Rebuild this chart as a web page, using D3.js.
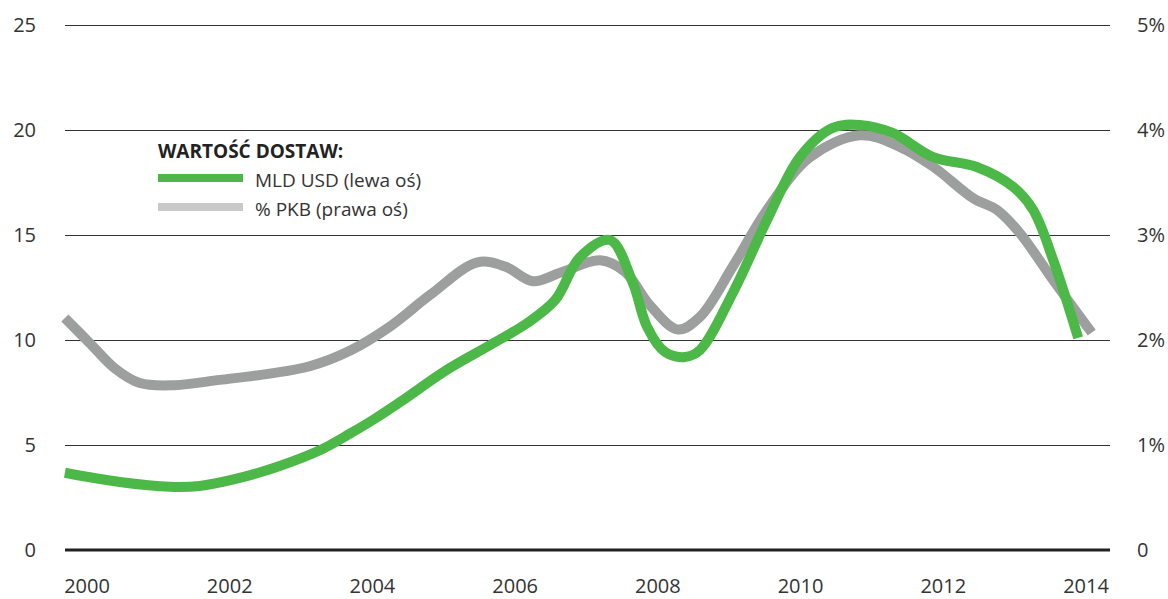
<!DOCTYPE html>
<html lang="pl">
<head>
<meta charset="utf-8">
<title>Wartość dostaw</title>
<script src="https://cdn.jsdelivr.net/npm/d3@7"></script>
<style>
  body { margin: 0; background: #fff; }
  text { font-family: "Open Sans", "Noto Sans", sans-serif; fill: #333; }
  .grid { stroke: #333; stroke-width: 1; }
  .base { stroke: #222; stroke-width: 3; }
  .tick-label { font-size: 20px; }
  .legend-title { font-size: 19px; font-weight: bold; fill: #222; }
  .legend-text { font-size: 19px; fill: #333; }
</style>
</head>
<body>
<script>
// years shown on the x axis
var years = [2000, 2002, 2004, 2006, 2008, 2010, 2012, 2014];
var leftTicks = [0, 5, 10, 15, 20, 25];
var rightTicks = ["0", "1%", "2%", "3%", "4%", "5%"];

// MLD USD (left axis) at fractional years
var usdYear = [1999.69, 2000.46, 2001.16, 2001.58, 2002.14, 2002.7, 2003.27, 2003.69, 2004.02, 2004.39,
               2005.04, 2005.65, 2006.17, 2006.56, 2006.91, 2007.33, 2007.65, 2007.85, 2008.1, 2008.38,
               2008.59, 2009.05, 2009.53, 2009.99, 2010.45, 2010.83, 2011.29, 2011.86, 2012.47, 2012.98,
               2013.26, 2013.54, 2013.89];
var usdValue = [3.68, 3.24, 3.01, 3.05, 3.43, 4.0, 4.76, 5.55, 6.22, 7.05,
                8.57, 9.76, 10.81, 11.9, 13.95, 14.76, 12.71, 10.62, 9.43, 9.19,
                9.52, 12.24, 15.71, 18.71, 20.1, 20.24, 19.86, 18.71, 18.24, 17.29,
                16.19, 13.81, 10.1];

// % PKB (right axis)
var pkbYear = [1999.69, 2000.04, 2000.39, 2000.74, 2001.23, 2001.86, 2002.56, 2003.12, 2003.69, 2004.25,
               2004.81, 2005.47, 2005.86, 2006.25, 2006.63, 2007.19, 2007.54, 2007.89, 2008.28, 2008.59,
               2009.05, 2009.53, 2010.13, 2010.83, 2011.39, 2011.86, 2012.42, 2012.75, 2013.07, 2013.54,
               2014.08];
var pkbValue = [2.21, 1.97, 1.73, 1.59, 1.57, 1.62, 1.68, 1.75, 1.90, 2.13,
                2.43, 2.74, 2.70, 2.56, 2.64, 2.76, 2.65, 2.33, 2.10, 2.22,
                2.70, 3.24, 3.74, 3.95, 3.84, 3.65, 3.35, 3.24, 3.02, 2.57,
                2.07];

var w = 1168, h = 599;
var green = "#4cb847", grey = "#9c9f9d";

var svg = d3.select("body").append("svg")
  .attr("width", w)
  .attr("height", h);

var x = d3.scaleLinear().domain([2000, 2014]).range([87, 1086]);
var yL = d3.scaleLinear().domain([0, 25]).range([550, 25]);
var yR = d3.scaleLinear().domain([0, 5]).range([550, 25]);

var gridX1 = 65, gridX2 = 1110;

// gridlines
svg.selectAll(".grid")
  .data(leftTicks.filter(function(d) { return d > 0; }))
  .enter().append("line")
  .attr("class", "grid")
  .attr("x1", gridX1).attr("x2", gridX2)
  .attr("y1", function(d) { return Math.round(yL(d)) + 0.5; })
  .attr("y2", function(d) { return Math.round(yL(d)) + 0.5; });

// left labels
svg.selectAll(".lt")
  .data(leftTicks)
  .enter().append("text")
  .attr("class", "tick-label")
  .attr("text-anchor", "end")
  .attr("x", 36)
  .attr("y", function(d) { return yL(d) + 7; })
  .text(function(d) { return d; });

// right labels
svg.selectAll(".rt")
  .data(rightTicks)
  .enter().append("text")
  .attr("class", "tick-label")
  .attr("x", 1137)
  .attr("y", function(d, i) { return yR(i) + 7; })
  .text(function(d) { return d; });

// x labels
svg.selectAll(".xt")
  .data(years)
  .enter().append("text")
  .attr("class", "tick-label")
  .attr("text-anchor", "middle")
  .attr("x", function(d) { return x(d); })
  .attr("y", 593)
  .text(function(d) { return d; });

// lines
var pkbLine = d3.line()
  .x(function(d, i) { return x(pkbYear[i]); })
  .y(function(d) { return yR(d); })
  .curve(d3.curveCatmullRom.alpha(0.5));

var usdLine = d3.line()
  .x(function(d, i) { return x(usdYear[i]); })
  .y(function(d) { return yL(d); })
  .curve(d3.curveCatmullRom.alpha(0.5));

svg.append("path")
  .datum(pkbValue)
  .attr("fill", "none")
  .attr("stroke", grey)
  .attr("stroke-width", 10)
  .attr("d", pkbLine);

svg.append("path")
  .datum(usdValue)
  .attr("fill", "none")
  .attr("stroke", green)
  .attr("stroke-width", 10)
  .attr("d", usdLine);

// zero line on top
svg.append("line")
  .attr("class", "base")
  .attr("x1", gridX1).attr("x2", gridX2)
  .attr("y1", yL(0)).attr("y2", yL(0));

// legend
var lg = svg.append("g").attr("transform", "translate(158,0)");
lg.append("text").attr("class", "legend-title")
  .attr("x", 0).attr("y", 158)
  .text("WARTOŚĆ DOSTAW:");
lg.append("rect").attr("x", 0).attr("y", 174).attr("width", 85).attr("height", 8).attr("fill", green);
lg.append("text").attr("class", "legend-text")
  .attr("x", 97).attr("y", 187)
  .text("MLD USD (lewa oś)");
lg.append("rect").attr("x", 0).attr("y", 203).attr("width", 85).attr("height", 8).attr("fill", "#c8c9c8");
lg.append("text").attr("class", "legend-text")
  .attr("x", 97).attr("y", 216)
  .text("% PKB (prawa oś)");
</script>
</body>
</html>
